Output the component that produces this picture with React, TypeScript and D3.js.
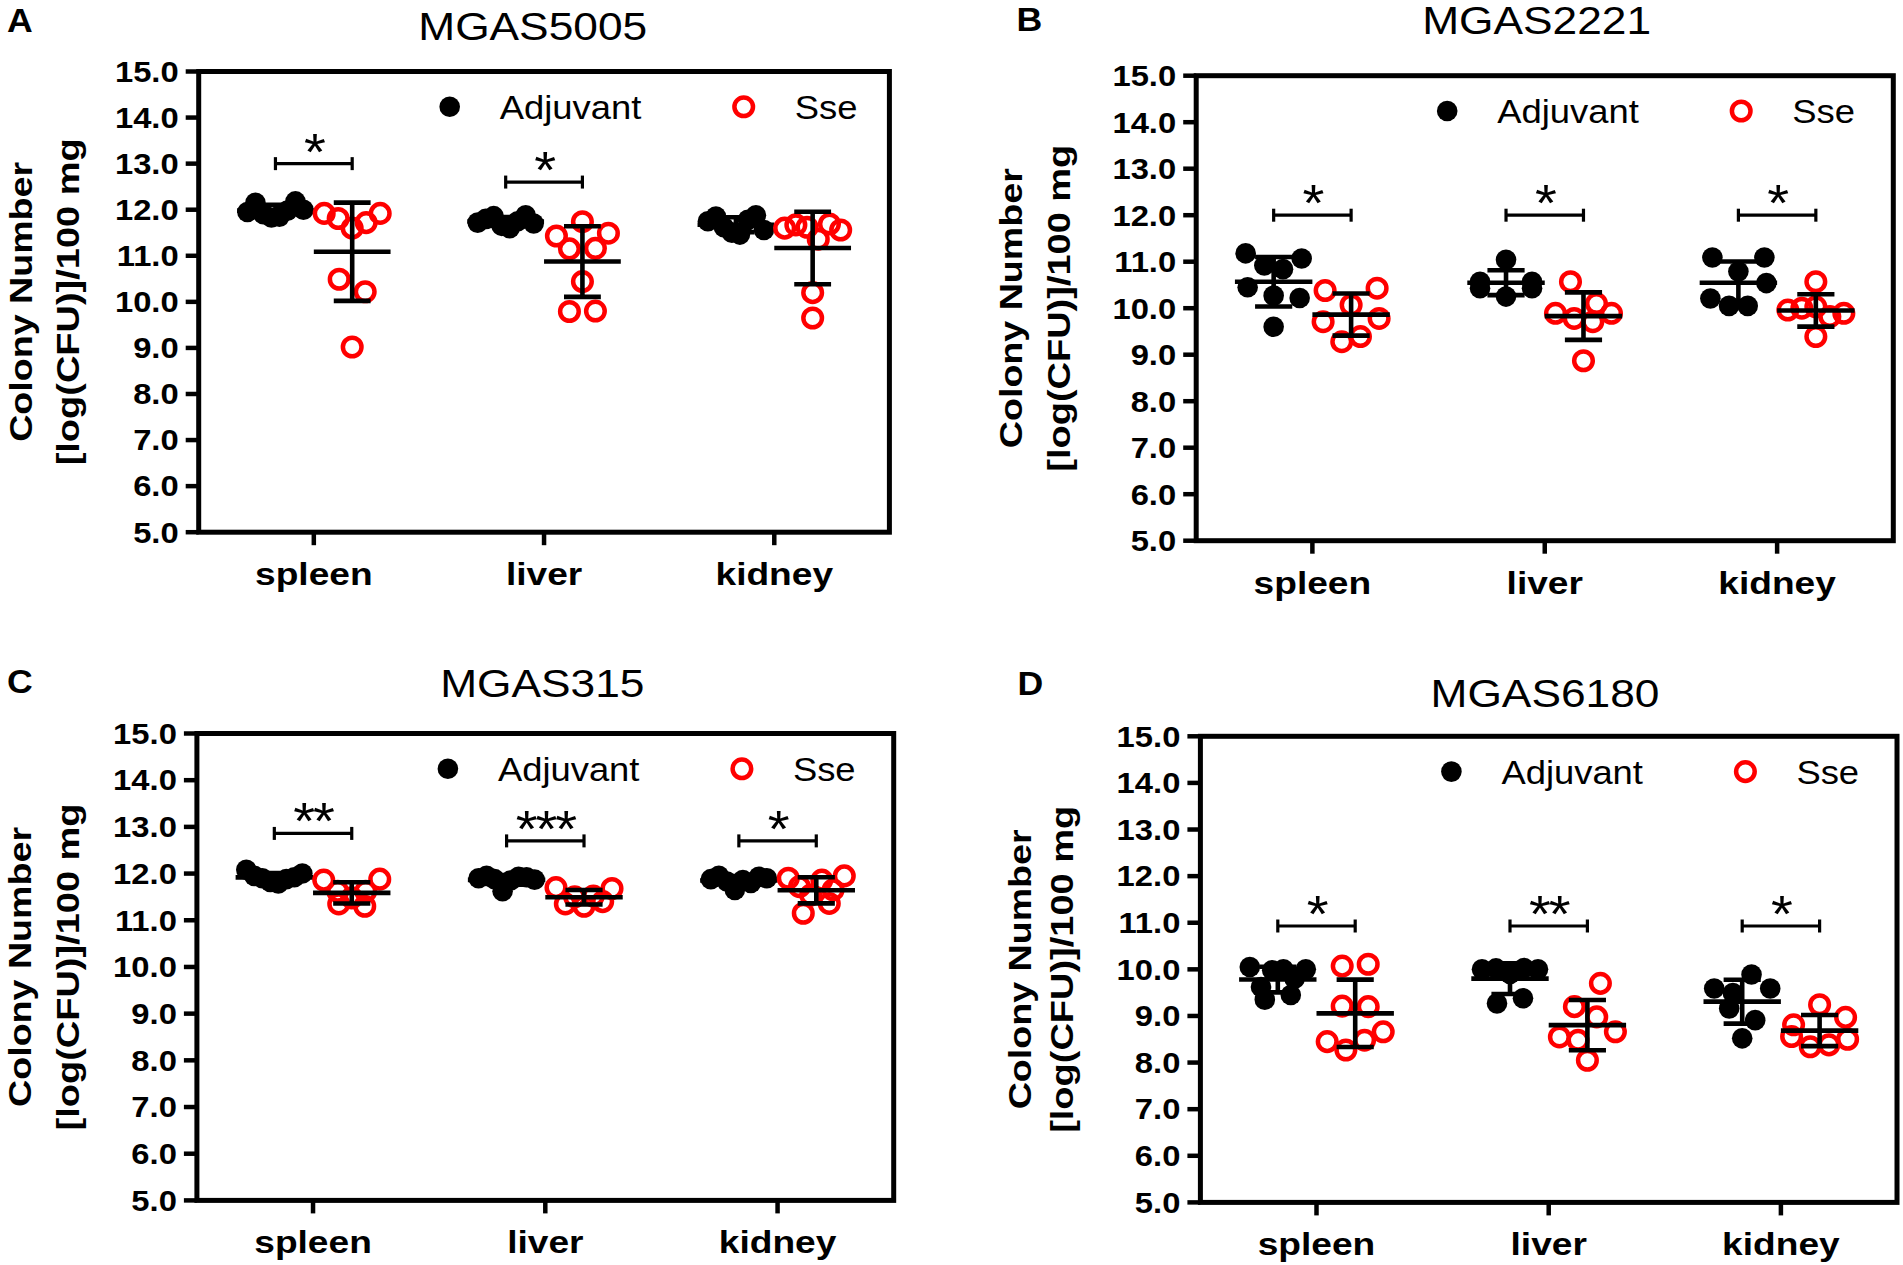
import React from 'react';
import * as d3 from 'd3';

const W = 1903;
const H = 1265;
const FONT = "'Liberation Sans', Arial, Helvetica, sans-serif";
const RED = '#ff0000';

const categories = ['spleen', 'liver', 'kidney'];
const seriesNames = ['Adjuvant', 'Sse'];
const yTicks = [5, 6, 7, 8, 9, 10, 11, 12, 13, 14, 15];
const yDomain = [5, 15];
const yAxisTitle = ['Colony Number', '[log(CFU)]/100 mg'];

const panelLetters = ['A', 'B', 'C', 'D'];
const panelTitles = ['MGAS5005', 'MGAS2221', 'MGAS315', 'MGAS6180'];

// values per organ (spleen, liver, kidney); log10 CFU / 100 mg
const mgas5005Adjuvant = [
  [11.95, 12.15, 11.9, 11.83, 11.85, 11.98, 12.18, 12.0],
  [11.72, 11.8, 11.86, 11.65, 11.6, 11.75, 11.88, 11.7],
  [11.75, 11.85, 11.62, 11.5, 11.46, 11.78, 11.88, 11.56],
];
const mgas5005Sse = [
  [11.92, 10.49, 11.81, 11.6, 9.02, 11.72, 10.22, 11.92],
  [11.43, 9.79, 11.15, 11.74, 10.44, 11.16, 9.8, 11.49],
  [11.6, 11.67, 9.65, 11.62, 11.36, 11.69, 10.2, 11.56],
];
const mgas5005SigLevel = [13.0, 12.6, null];
const mgas5005SigLabel = ['*', '*', ''];

const mgas2221Adjuvant = [
  [11.18, 10.45, 9.6, 10.27, 10.92, 10.22, 10.84, 11.07],
  [10.57, 10.43, 11.04, 10.25, 10.43, 10.57],
  [10.21, 11.09, 10.05, 10.79, 10.05, 11.09, 10.54],
];
const mgas2221Sse = [
  [9.71, 10.38, 9.28, 10.07, 9.39, 10.43, 9.78],
  [9.89, 9.78, 10.57, 8.87, 9.71, 9.89, 10.1],
  [9.96, 10.0, 9.39, 10.03, 9.82, 10.57, 9.89],
];
const mgas2221SigLevel = [12.0, 12.0, 12.0];
const mgas2221SigLabel = ['*', '*', '*'];

const mgas315Adjuvant = [
  [12.08, 11.95, 11.9, 11.82, 11.79, 11.88, 11.92, 12.0],
  [11.9, 11.95, 11.88, 11.62, 11.85, 11.93, 11.92, 11.87],
  [11.88, 11.95, 11.83, 11.65, 11.86, 11.8, 11.93, 11.9],
];
const mgas315Sse = [
  [11.86, 11.62, 11.48, 11.35, 11.3, 11.62, 11.88],
  [11.7, 11.35, 11.5, 11.3, 11.52, 11.4, 11.68],
  [11.9, 11.72, 11.54, 11.86, 11.15, 11.36, 11.65, 11.95],
];
const mgas315SigLevel = [12.86, 12.7, 12.7];
const mgas315SigLabel = ['**', '***', '*'];

const mgas6180Adjuvant = [
  [10.05, 9.62, 9.35, 9.98, 10.0, 9.45, 9.8, 10.0],
  [10.0, 10.02, 9.27, 9.9, 10.03, 9.38, 10.0],
  [9.59, 8.52, 9.49, 9.89, 9.16, 8.91, 9.59],
];
const mgas6180Sse = [
  [8.45, 10.07, 9.21, 8.27, 10.11, 8.48, 9.2, 8.66],
  [8.55, 9.2, 8.05, 9.7, 8.48, 8.98, 8.66],
  [8.56, 8.81, 8.34, 9.24, 8.38, 8.97, 8.5],
];
const mgas6180SigLevel = [10.93, 10.93, 10.93];
const mgas6180SigLabel = ['*', '**', '*'];

const panelData = [
  { adj: mgas5005Adjuvant, sse: mgas5005Sse, sigLevel: mgas5005SigLevel, sigLabel: mgas5005SigLabel },
  { adj: mgas2221Adjuvant, sse: mgas2221Sse, sigLevel: mgas2221SigLevel, sigLabel: mgas2221SigLabel },
  { adj: mgas315Adjuvant, sse: mgas315Sse, sigLevel: mgas315SigLevel, sigLabel: mgas315SigLabel },
  { adj: mgas6180Adjuvant, sse: mgas6180Sse, sigLevel: mgas6180SigLevel, sigLabel: mgas6180SigLabel },
];

// layout (pixels)
const layout = [
  { left: 198.7, right: 889.4, top: 71.5, bottom: 532.2, titleX: 532.7, titleY: 40.3, letterX: 7, letterY: 31.7, yt1: -167, yt2: -119.5 },
  { left: 1196.2, right: 1893.3, top: 75.7, bottom: 540.7, titleX: 1536.6, titleY: 34.3, letterX: 1016.5, letterY: 30.6, yt1: -174.6, yt2: -126.2 },
  { left: 196.9, right: 893.7, top: 733.5, bottom: 1200.4, titleX: 542.3, titleY: 696.6, letterX: 7, letterY: 692.8, yt1: -166, yt2: -118 },
  { left: 1200.4, right: 1897, top: 736.3, bottom: 1202.4, titleX: 1545, titleY: 706.7, letterX: 1017.5, letterY: 694.8, yt1: -169.7, yt2: -127.1 },
];

const DOT_R = 10.3;
const RING_R = 9.3;
const RING_W = 4.5;
const LINE_W = 4.6;

function swarmOffsets(values: number[], y: d3.ScaleLinear<number, number>, rowPx = 24, sMax = 26, hMax = 28) {
  const idx = values.map((_, i) => i).sort((a, b) => values[b] - values[a]);
  const rows: number[][] = [];
  let cur: number[] | null = null;
  let startY = 0;
  for (const i of idx) {
    const py = y(values[i]);
    if (cur && py - startY < rowPx) cur.push(i);
    else {
      cur = [i];
      rows.push(cur);
      startY = py;
    }
  }
  const off = values.map(() => 0);
  rows.forEach((row) => {
    const n = row.length;
    if (n < 2) return;
    const s = Math.min(sMax, (2 * hMax) / (n - 1));
    [...row].sort((a, b) => a - b).forEach((i, k) => {
      off[i] = (k - (n - 1) / 2) * s;
    });
  });
  return off;
}

function SText(props: any) {
  const { x, y, sx = 1, size, weight = 'normal', anchor = 'start', children, fill = '#000', spacing } = props;
  return (
    <text
      transform={`translate(${x},${y}) scale(${sx},1)`}
      fontSize={size}
      fontWeight={weight}
      textAnchor={anchor}
      fontFamily={FONT}
      fill={fill}
      letterSpacing={spacing}
    >
      {children}
    </text>
  );
}

function Group({ values, cx, y, filled, half, capHalf }: any) {
  const offs = swarmOffsets(values, y);
  const m = d3.mean(values) as number;
  const sd = d3.deviation(values) as number;
  return (
    <g>
      {values.map((v: number, k: number) =>
        filled ? (
          <circle key={k} cx={cx + offs[k]} cy={y(v)} r={DOT_R} fill="#000" />
        ) : (
          <circle key={k} cx={cx + offs[k]} cy={y(v)} r={RING_R} fill="none" stroke={RED} strokeWidth={RING_W} />
        )
      )}
      <line x1={cx - half} x2={cx + half} y1={y(m)} y2={y(m)} stroke="#000" strokeWidth={LINE_W} />
      <line x1={cx} x2={cx} y1={y(m - sd)} y2={y(m + sd)} stroke="#000" strokeWidth={LINE_W} />
      <line x1={cx - capHalf} x2={cx + capHalf} y1={y(m + sd)} y2={y(m + sd)} stroke="#000" strokeWidth={LINE_W} />
      <line x1={cx - capHalf} x2={cx + capHalf} y1={y(m - sd)} y2={y(m - sd)} stroke="#000" strokeWidth={LINE_W} />
    </g>
  );
}

function Panel({ index }: { index: number }) {
  const lay = layout[index];
  const data = panelData[index];
  const y = d3.scaleLinear().domain(yDomain).range([lay.bottom, lay.top]);
  const x = d3.scaleBand().domain(categories).range([lay.left, lay.right]);
  const bw = x.bandwidth();
  const gOff = bw / 6;
  const half = bw / 6;
  const capHalf = bw * 0.08;
  const fmt = d3.format('.1f');
  const cy = (lay.top + lay.bottom) / 2;
  const legY = lay.top + 35.3;

  return (
    <g>
      <SText x={lay.letterX} y={lay.letterY} size={33} weight="bold" sx={1.08}>
        {panelLetters[index]}
      </SText>
      <SText x={lay.titleX} y={lay.titleY} size={39} sx={1.136} anchor="middle">
        {panelTitles[index]}
      </SText>

      {/* y axis title */}
      <text
        transform={`translate(${lay.left + lay.yt1},${cy}) rotate(-90)`}
        x={-140}
        fontSize={32}
        fontWeight="bold"
        fontFamily={FONT}
        textLength={280}
        lengthAdjust="spacingAndGlyphs"
      >
        {yAxisTitle[0]}
      </text>
      <text
        transform={`translate(${lay.left + lay.yt2},${cy}) rotate(-90)`}
        x={-163.5}
        fontSize={32}
        fontWeight="bold"
        fontFamily={FONT}
        textLength={327}
        lengthAdjust="spacingAndGlyphs"
      >
        {yAxisTitle[1]}
      </text>

      {/* frame */}
      <rect
        x={lay.left}
        y={lay.top}
        width={lay.right - lay.left}
        height={lay.bottom - lay.top}
        fill="none"
        stroke="#000"
        strokeWidth={5}
      />
      {yTicks.map((t) => (
        <g key={t}>
          <line x1={lay.left - 13} x2={lay.left} y1={y(t)} y2={y(t)} stroke="#000" strokeWidth={4.5} />
          <SText x={lay.left - 20} y={y(t) + 10.3} size={29} weight="bold" sx={1.13} anchor="end">
            {fmt(t)}
          </SText>
        </g>
      ))}
      {categories.map((c) => {
        const cx = (x(c) as number) + bw / 2;
        return (
          <g key={c}>
            <line x1={cx} x2={cx} y1={lay.bottom} y2={lay.bottom + 13} stroke="#000" strokeWidth={4.5} />
            <SText x={cx} y={lay.bottom + 53} size={32} weight="bold" sx={1.16} anchor="middle">
              {c}
            </SText>
          </g>
        );
      })}

      {/* legend */}
      <circle cx={lay.left + 251} cy={legY} r={DOT_R} fill="#000" />
      <SText x={lay.left + 301} y={legY + 12} size={34} sx={1.07}>
        {seriesNames[0]}
      </SText>
      <circle cx={lay.left + 545} cy={legY} r={RING_R} fill="none" stroke={RED} strokeWidth={RING_W} />
      <SText x={lay.left + 596} y={legY + 12} size={34} sx={1.07}>
        {seriesNames[1]}
      </SText>

      {/* data */}
      {categories.map((c, ci) => {
        const cx = (x(c) as number) + bw / 2;
        const level = data.sigLevel[ci];
        return (
          <g key={c}>
            <Group values={data.adj[ci]} cx={cx - gOff} y={y} filled half={half} capHalf={capHalf} />
            <Group values={data.sse[ci]} cx={cx + gOff} y={y} filled={false} half={half} capHalf={capHalf} />
            {level != null && (
              <g>
                <line x1={cx - gOff} x2={cx + gOff} y1={y(level)} y2={y(level)} stroke="#000" strokeWidth={3.2} />
                <line x1={cx - gOff} x2={cx - gOff} y1={y(level) - 6.5} y2={y(level) + 6.5} stroke="#000" strokeWidth={3.2} />
                <line x1={cx + gOff} x2={cx + gOff} y1={y(level) - 6.5} y2={y(level) + 6.5} stroke="#000" strokeWidth={3.2} />
                <SText x={cx} y={y(level) + 6} size={52} sx={1.08} anchor="middle" spacing={-2}>
                  {data.sigLabel[ci]}
                </SText>
              </g>
            )}
          </g>
        );
      })}
    </g>
  );
}

export default function App() {
  return (
    <svg
      width={W}
      height={H}
      viewBox={`0 0 ${W} ${H}`}
      style={{ position: 'absolute', left: 0, top: 0, display: 'block', background: '#fff' }}
    >
      <rect x={0} y={0} width={W} height={H} fill="#fff" />
      {[0, 1, 2, 3].map((i) => (
        <Panel key={i} index={i} />
      ))}
    </svg>
  );
}
